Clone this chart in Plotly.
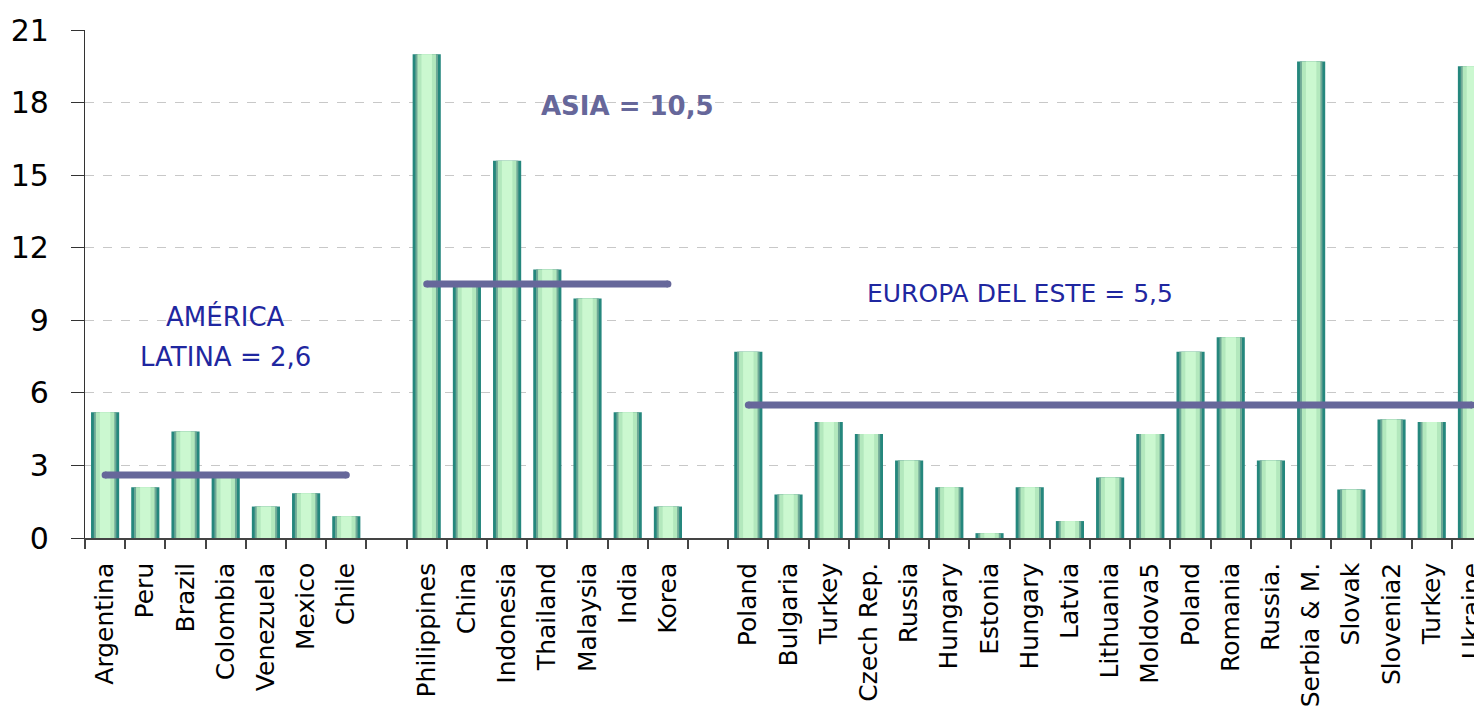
import plotly.graph_objects as go

# Data
america_names = ["Argentina", "Peru", "Brazil", "Colombia", "Venezuela", "Mexico", "Chile"]
america_vals = [5.2, 2.1, 4.4, 2.5, 1.3, 1.85, 0.9]

asia_names = ["Philippines", "China", "Indonesia", "Thailand", "Malaysia", "India", "Korea"]
asia_vals = [20.0, 10.4, 15.6, 11.1, 9.9, 5.2, 1.3]

europe_names = ["Poland", "Bulgaria", "Turkey", "Czech Rep.", "Russia", "Hungary", "Estonia",
                "Hungary", "Latvia", "Lithuania", "Moldova5", "Poland", "Romania", "Russia.",
                "Serbia & M.", "Slovak", "Slovenia2", "Turkey", "Ukraine"]
europe_vals = [7.7, 1.8, 4.8, 4.3, 3.2, 2.1, 0.2, 2.1, 0.7, 2.5, 4.3, 7.7, 8.3, 3.2,
               19.7, 2.0, 4.9, 4.8, 19.5]

group_means = [2.6, 10.5, 5.5]

FONT = "DejaVu Sans"
LINE_COLOR = "#66679a"
TEXT_BLUE = "#1f27a0"

# one empty slot between groups
groups = [(america_names, america_vals), (asia_names, asia_vals), (europe_names, europe_vals)]
xs, names, vals, spans = [], [], [], []
pos = 0
for g_names, g_vals in groups:
    start = pos
    for n, v in zip(g_names, g_vals):
        xs.append(pos)
        names.append(n)
        vals.append(v)
        pos += 1
    spans.append((start, pos - 1))
    pos += 1

fig = go.Figure()

# layered bars to fake the cylinder shading
layers = [(0.70, "#25877d"), (0.56, "#6fa896"), (0.46, "#b3e8bd"), (0.26, "#cbf8d0")]
for w, c in layers:
    fig.add_trace(go.Bar(
        x=xs, y=vals, width=w, marker=dict(color=c, line=dict(width=0)),
        hoverinfo="skip", showlegend=False,
    ))

# group averages
for (a, b), m in zip(spans, group_means):
    fig.add_trace(go.Scatter(
        x=[a, b], y=[m, m], mode="lines+markers",
        line=dict(color=LINE_COLOR, width=7),
        marker=dict(color=LINE_COLOR, size=7),
        hoverinfo="skip", showlegend=False,
    ))

# page body has an 8px margin, so the figure is sized to end at the window edge
fig.update_layout(
    width=1474, height=701,
    margin=dict(l=77, r=0, t=22, b=171, autoexpand=False),
    plot_bgcolor="white", paper_bgcolor="white",
    barmode="overlay",
    font=dict(family=FONT, color="black"),
    xaxis=dict(
        range=[-0.5, 34.25], automargin=False,
        tickmode="array", tickvals=xs, ticktext=names,
        tickangle=-90, ticks="", ticklabelstandoff=13, ticklabeloverflow="allow",
        tickfont=dict(size=25, family=FONT),
        minor=dict(ticks="outside", ticklen=9, tickcolor="#444", tickwidth=1.5,
                   tickmode="linear", tick0=-0.5, dtick=1, showgrid=False),
        showline=True, linecolor="#444", linewidth=1.5,
        showgrid=False, zeroline=False,
    ),
    yaxis=dict(
        range=[0, 21], automargin=False, tickmode="linear", tick0=0, dtick=3,
        ticks="outside", ticklen=13, tickcolor="#333", ticklabelstandoff=16,
        tickfont=dict(size=30, family=FONT),
        showline=True, linecolor="#333", linewidth=1.2,
        showgrid=True, gridcolor="#c8c8c8", griddash="dash", gridwidth=1,
        zeroline=False,
    ),
    annotations=[
        dict(x=3, y=9.17, text="AMÉRICA", showarrow=False,
             font=dict(size=26, color=TEXT_BLUE, family=FONT)),
        dict(x=3, y=7.47, text="LATINA = 2,6", showarrow=False,
             font=dict(size=26, color=TEXT_BLUE, family=FONT)),
        dict(x=13, y=17.85, text="<b>ASIA = 10,5</b>", showarrow=False,
             font=dict(size=26, color=LINE_COLOR, family=FONT)),
        dict(x=22.75, y=10.1, text="EUROPA DEL ESTE = 5,5", showarrow=False,
             font=dict(size=25, color=TEXT_BLUE, family=FONT)),
    ],
)

fig.write_html("out.html")
